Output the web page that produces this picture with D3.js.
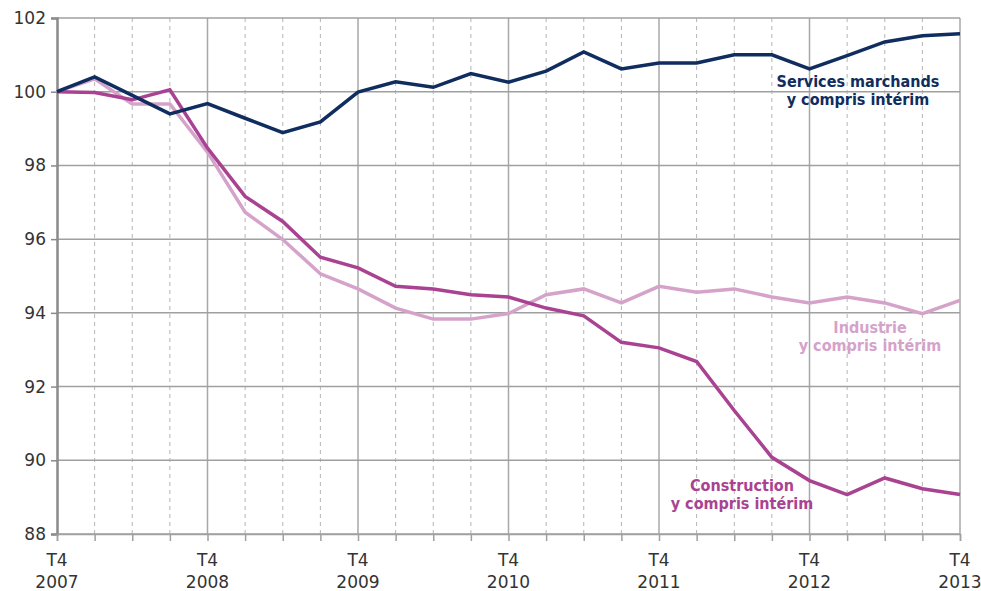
<!DOCTYPE html>
<html>
  <head>
    <script src="https://d3js.org/d3.v7.min.js"></script>
    <title>Emploi par secteur</title>
    <style>
      body { margin: 0; background: #fff; }
      svg text { font-family: "DejaVu Sans", Verdana, sans-serif; }
      .lbl { font-family: "DejaVu Sans Condensed", sans-serif !important; font-weight: bold; font-size: 16px; }
    </style>
  </head>
  <body>
    <div id="container"></div>
    <script>
    // quarters from T4 2007 to T4 2013
    var quarters = ['T4 2007','T1 2008','T2 2008','T3 2008','T4 2008','T1 2009','T2 2009','T3 2009','T4 2009',
      'T1 2010','T2 2010','T3 2010','T4 2010','T1 2011','T2 2011','T3 2011','T4 2011',
      'T1 2012','T2 2012','T3 2012','T4 2012','T1 2013','T2 2013','T3 2013','T4 2013'];

    var services = [100, 100.40, 99.90, 99.40, 99.68, 99.28, 98.89, 99.18, 99.99,
      100.27, 100.12, 100.49, 100.26, 100.56, 101.08, 100.62, 100.78,
      100.78, 101.00, 101.00, 100.62, 100.98, 101.35, 101.52, 101.57];

    var industrie = [100, 100.35, 99.67, 99.67, 98.36, 96.73, 95.99, 95.06, 94.65,
      94.13, 93.83, 93.83, 93.98, 94.49, 94.65, 94.27, 94.72,
      94.56, 94.65, 94.43, 94.27, 94.43, 94.27, 93.98, 94.34];

    var construction = [100, 99.98, 99.78, 100.05, 98.47, 97.16, 96.48, 95.51, 95.22,
      94.72, 94.65, 94.49, 94.43, 94.13, 93.92, 93.20, 93.05,
      92.68, 91.35, 90.08, 89.45, 89.07, 89.52, 89.23, 89.07];

    var yTicks = [88, 90, 92, 94, 96, 98, 100, 102];
    var yearLabels = ['2007','2008','2009','2010','2011','2012','2013'];

    const w = 981, h = 591;
    const margin = {top: 18, right: 21, bottom: 57, left: 57};

    const svg = d3.select('#container').append('svg')
      .attr('width', w).attr('height', h);

    const xScale = d3.scaleLinear()
      .domain([0, quarters.length - 1])
      .range([margin.left, w - margin.right]);

    const yScale = d3.scaleLinear()
      .domain([88, 102])
      .range([h - margin.bottom, margin.top]);

    // vertical grid: solid at each T4, dashed otherwise
    svg.append('g').selectAll('line')
      .data(quarters.map((q, i) => i).filter(i => i > 0))
      .enter().append('line')
      .attr('x1', i => xScale(i)).attr('x2', i => xScale(i))
      .attr('y1', yScale(102)).attr('y2', yScale(88))
      .attr('stroke', i => i % 4 === 0 ? '#a8a8a8' : '#b4b4b4')
      .attr('stroke-width', i => i % 4 === 0 ? 1.5 : 1)
      .attr('stroke-dasharray', i => i % 4 === 0 ? null : '4,4');

    // horizontal grid
    svg.append('g').selectAll('line')
      .data(yTicks)
      .enter().append('line')
      .attr('x1', margin.left).attr('x2', w - margin.right)
      .attr('y1', d => yScale(d)).attr('y2', d => yScale(d))
      .attr('stroke', '#a0a0a0')
      .attr('stroke-width', 1.5);

    // y axis
    const yAxis = d3.axisLeft(yScale).tickValues(yTicks).tickSize(6).tickPadding(5);
    const gy = svg.append('g')
      .attr('transform', `translate(${margin.left},0)`)
      .call(yAxis);
    gy.select('.domain').attr('stroke', '#8a8a8a').attr('stroke-width', 2.5);
    gy.selectAll('.tick line').attr('stroke', '#8a8a8a').attr('stroke-width', 1.5);
    gy.selectAll('.tick text').attr('fill', '#333').style('font-size', '17px');

    // x axis
    const xAxis = d3.axisBottom(xScale)
      .tickValues(d3.range(quarters.length))
      .tickSize(7)
      .tickFormat('');
    const gx = svg.append('g')
      .attr('transform', `translate(0,${yScale(88)})`)
      .call(xAxis);
    gx.select('.domain').attr('stroke', '#a0a0a0').attr('stroke-width', 1.5);
    gx.selectAll('.tick line').attr('stroke', '#a0a0a0').attr('stroke-width', 1.5);

    const xl = svg.append('g').selectAll('g')
      .data(yearLabels)
      .enter().append('text')
      .attr('text-anchor', 'middle')
      .attr('fill', '#333')
      .style('font-size', '17px')
      .attr('x', (d, i) => xScale(i * 4));
    xl.append('tspan').attr('x', (d, i) => xScale(i * 4)).attr('y', 566).text('T4');
    xl.append('tspan').attr('x', (d, i) => xScale(i * 4)).attr('y', 588).text(d => d);

    const line = d3.line()
      .x((d, i) => xScale(i))
      .y(d => yScale(d));

    const series = [
      {values: industrie, color: '#d5a2ca'},
      {values: construction, color: '#aa4292'},
      {values: services, color: '#0f2d5e'}
    ];

    svg.append('g').selectAll('path')
      .data(series)
      .enter().append('path')
      .attr('d', d => line(d.values))
      .attr('fill', 'none')
      .attr('stroke', d => d.color)
      .attr('stroke-width', 3.5)
      .attr('stroke-linejoin', 'miter');

    // labels
    const labels = [
      {lines: ['Services marchands', 'y compris intérim'], x: 858, y: 87, color: '#0f2d5e'},
      {lines: ['Industrie', 'y compris intérim'], x: 870, y: 333, color: '#d5a2ca'},
      {lines: ['Construction', 'y compris intérim'], x: 742, y: 491, color: '#aa4292'}
    ];

    labels.forEach(l => {
      l.lines.forEach((s, k) => {
        svg.append('text')
          .attr('class', 'lbl')
          .attr('text-anchor', 'middle')
          .attr('fill', l.color)
          .attr('x', l.x)
          .attr('y', l.y + k * 17.5)
          .text(s);
      });
    });
    </script>
  </body>
</html>
